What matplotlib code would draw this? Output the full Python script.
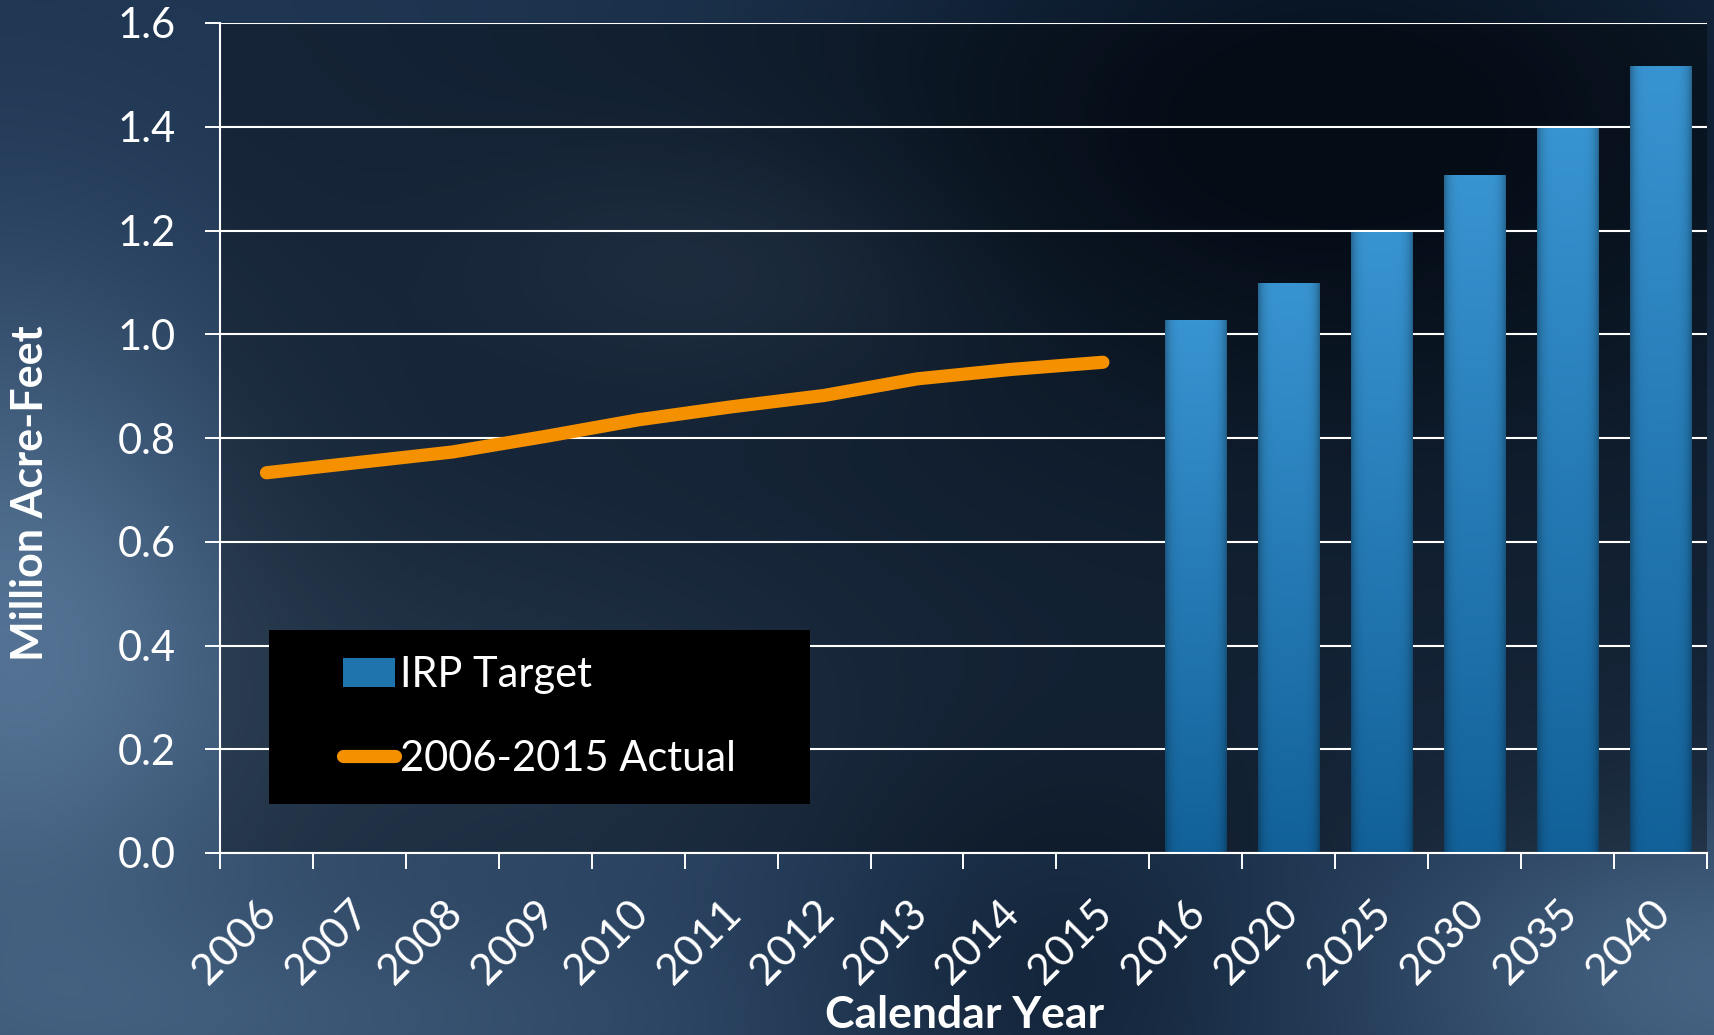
import numpy as np
import matplotlib
matplotlib.use("Agg")
import matplotlib.pyplot as plt
from matplotlib.patches import Rectangle
from matplotlib.transforms import ScaledTranslation

plt.rcParams['font.family'] = ['Lato', 'DejaVu Sans']

years = ["2006", "2007", "2008", "2009", "2010", "2011", "2012", "2013",
         "2014", "2015", "2016", "2020", "2025", "2030", "2035", "2040"]
actual_years = years[:10]
actual = [0.733, 0.753, 0.773, 0.803, 0.835, 0.860, 0.882, 0.914, 0.932, 0.946]
target_years = years[10:]
target = [1.028, 1.099, 1.197, 1.307, 1.397, 1.518]
yticks = [0.0, 0.2, 0.4, 0.6, 0.8, 1.0, 1.2, 1.4, 1.6]

fig = plt.figure(figsize=(17.15, 10.35), dpi=100)

# slide background (soft dark blue texture)
H, W = 207, 343
yy, xx = np.mgrid[0:1:H * 1j, 0:1:W * 1j]
def blob(cx, cy, sx, sy):
    return np.exp(-((xx - cx) / sx) ** 2 - ((yy - cy) / sy) ** 2)
base = np.array([0.12, 0.21, 0.32])
light_c = np.array([0.33, 0.45, 0.58])
dark_c = np.array([0.03, 0.08, 0.14])
light = (0.95 * blob(0.0, 0.62, 0.16, 0.35) + 0.45 * blob(0.45, 0.25, 0.16, 0.12)
         + 0.75 * blob(1.02, 0.95, 0.2, 0.18) + 0.45 * blob(0.15, 1.0, 0.3, 0.12)
         + 0.35 * blob(0.3, 0.7, 0.2, 0.2))
light = np.clip(light, 0, 1)
dark = np.clip(1.1 * blob(0.78, 0.12, 0.3, 0.3) + 0.5 * blob(0.62, 0.95, 0.12, 0.2), 0, 1)
img = base + light[..., None] * (light_c - base)
img = img + dark[..., None] * (dark_c - img)
bg = fig.add_axes([0, 0, 1, 1], zorder=-10)
bg.imshow(img, aspect='auto', extent=(0, 1, 0, 1), interpolation='bicubic')
bg.axis('off')

ax = fig.add_axes([220 / 1715, 182 / 1035, 1487 / 1715, 830 / 1035])
ax.set_facecolor((0, 0, 0, 0.35))

x_all = np.arange(len(years))
x_act = [years.index(y) for y in actual_years]
x_tgt = [years.index(y) for y in target_years]

bars = ax.bar(x_tgt, target, width=0.66, color='#1f74ae', edgecolor='none', zorder=2,
              label='IRP Target')
# vertical gradient inside each bar
grad = np.linspace(0, 1, 100)[:, None]
horiz = 1 - 0.3 * (np.abs(np.linspace(-1, 1, 60)) ** 6)[None, :]
top_c = np.array([0.22, 0.58, 0.82])
bot_c = np.array([0.07, 0.38, 0.60])
gimg = top_c + grad[..., None] * (bot_c - top_c)
gimg = gimg * horiz[..., None]
for b in bars:
    x0, w, h = b.get_x(), b.get_width(), b.get_height()
    im = ax.imshow(gimg, extent=(x0, x0 + w, 0, h), aspect='auto', origin='upper',
                   zorder=2.1, interpolation='bilinear')
    im.set_clip_path(b)

line, = ax.plot(x_act, actual, color='#f59100', lw=9.5, solid_capstyle='round',
                zorder=3, label='2006-2015 Actual')

ax.set_xlim(-0.5, len(years) - 0.5)
ax.set_ylim(0, 1.6)

ax.set_yticks(yticks)
ax.set_yticklabels([f"{v:.1f}" for v in yticks])
ax.yaxis.grid(True, color='white', lw=1.5, zorder=1)
ax.set_axisbelow(True)
ax.tick_params(axis='y', colors='white', labelsize=30, length=10.8, width=1.4, pad=21)

ax.set_xticks(x_all)
ax.set_xticklabels(years, rotation=45, ha='right', va='top', rotation_mode='anchor')
ax.set_xticks(np.arange(-0.5, len(years)), minor=True)
ax.tick_params(axis='x', which='major', colors='white', labelsize=31, length=0, pad=29)
ax.tick_params(axis='x', which='minor', color='white', length=11.5, width=1.4)
shift = ScaledTranslation(-0.10, 0, fig.dpi_scale_trans)
for lbl in ax.get_xticklabels():
    lbl.set_transform(lbl.get_transform() + shift)

for s in ['top', 'right']:
    ax.spines[s].set_visible(False)
for s in ['left', 'bottom']:
    ax.spines[s].set_color('white')
    ax.spines[s].set_linewidth(1.5)

# legend on black box
ax.add_patch(Rectangle((0.033, 0.059), 0.364, 0.21, transform=ax.transAxes,
                       facecolor='black', edgecolor='none', zorder=4))
leg = ax.legend(handles=[bars, line], loc='center',
                bbox_to_anchor=(0.033 + 0.182, 0.059 + 0.105), frameon=False,
                fontsize=30, labelcolor='white', handlelength=1.25, handletextpad=0.12,
                labelspacing=1.1, borderaxespad=0)
leg.set_zorder(5)

fig.text(43 / 1715, 1 - 493 / 1035, "Million Acre-Feet", rotation=90, rotation_mode='anchor',
         ha='center', va='baseline', color='white', fontsize=31, fontweight='bold')
fig.text(965 / 1715, 1 - 1028 / 1035, "Calendar Year", ha='center', va='baseline',
         color='white', fontsize=32, fontweight='bold')

fig.savefig("out.png", dpi=100)
